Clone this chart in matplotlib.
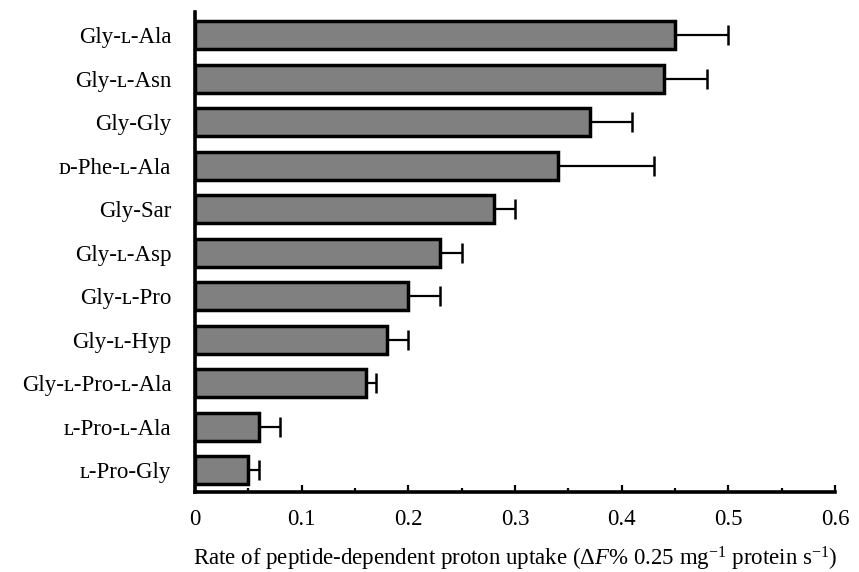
import matplotlib
matplotlib.use("Agg")
import matplotlib.pyplot as plt
from matplotlib.ticker import MultipleLocator

categories = ["Gly-ʟ-Ala", "Gly-ʟ-Asn", "Gly-Gly", "ᴅ-Phe-ʟ-Ala", "Gly-Sar",
              "Gly-ʟ-Asp", "Gly-ʟ-Pro", "Gly-ʟ-Hyp", "Gly-ʟ-Pro-ʟ-Ala",
              "ʟ-Pro-ʟ-Ala", "ʟ-Pro-Gly"]
values = [0.45, 0.44, 0.37, 0.34, 0.28, 0.23, 0.20, 0.18, 0.16, 0.06, 0.05]
errors = [0.05, 0.04, 0.04, 0.09, 0.02, 0.02, 0.03, 0.02, 0.01, 0.02, 0.01]
xticks = [0, 0.1, 0.2, 0.3, 0.4, 0.5, 0.6]
xlabel = r"Rate of peptide-dependent proton uptake ($\Delta F$% 0.25 mg$^{-1}$ protein s$^{-1}$)"

plt.rcParams['font.family'] = ['Liberation Serif', 'DejaVu Serif']
plt.rcParams['mathtext.fontset'] = 'custom'
plt.rcParams['mathtext.rm'] = 'Liberation Serif'
plt.rcParams['mathtext.it'] = 'Liberation Serif:italic'

fig = plt.figure(figsize=(8.59, 5.72), dpi=100)
ax = fig.add_axes([0.227, 0.140, 0.745, 0.839])

n = len(categories)
ypos = [n - 1 - i for i in range(n)]
ax.barh(ypos, values, height=0.64, color="#808080", edgecolor="black",
        linewidth=2.5, zorder=2)
ax.errorbar(values, ypos, xerr=[[0] * n, errors], fmt="none", ecolor="black",
            elinewidth=1.6, capsize=7, capthick=1.8, zorder=1)

ax.set_xlim(0, 0.6)
ax.set_ylim(-0.5, n - 0.47)
ax.set_yticks(ypos)
ax.set_yticklabels(categories, fontsize=16.5)
ax.set_xticks(xticks)
ax.set_xticklabels([("%g" % t) for t in xticks], fontsize=16.5)
ax.xaxis.set_minor_locator(MultipleLocator(0.05))
ax.tick_params(axis='x', which='major', direction='in', length=5, width=1.6, pad=12)
ax.tick_params(axis='x', which='minor', direction='in', length=3, width=1.6)
ax.tick_params(axis='y', length=0, pad=17)
for s in ['top', 'right']:
    ax.spines[s].set_visible(False)
for s in ['left', 'bottom']:
    ax.spines[s].set_linewidth(2.6)
ax.set_xlabel(xlabel, fontsize=16.5, labelpad=11)

fig.savefig("out.png", dpi=100)
